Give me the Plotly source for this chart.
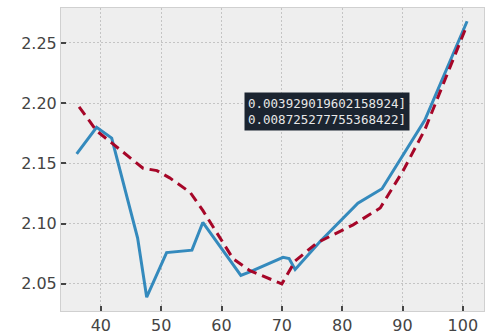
import plotly.graph_objects as go

x_blue = [36.0, 39.3, 41.8, 46.1, 47.6, 50.9, 55.1, 56.9, 63.2, 64.7, 70.2, 71.2, 72.2, 76.3, 82.6, 86.6, 93.7, 100.7]
y_blue = [2.158, 2.180, 2.171, 2.088, 2.039, 2.076, 2.078, 2.101, 2.057, 2.060, 2.072, 2.071, 2.062, 2.085, 2.117, 2.129, 2.186, 2.268]

x_red = [36.4, 39.3, 41.8, 47.0, 49.3, 51.4, 54.8, 56.9, 61.9, 64.7, 70.0, 72.2, 75.8, 81.8, 86.3, 90.1, 93.7, 100.7]
y_red = [2.197, 2.177, 2.167, 2.146, 2.144, 2.138, 2.126, 2.111, 2.071, 2.061, 2.050, 2.069, 2.084, 2.099, 2.113, 2.144, 2.178, 2.265]

x_ticks = [40, 50, 60, 70, 80, 90, 100]
y_ticks = [2.05, 2.10, 2.15, 2.20, 2.25]
y_labels = ["2.05", "2.10", "2.15", "2.20", "2.25"]
box_lines = ["0.003929019602158924]", "0.008725277755368422]"]

fig = go.Figure()
fig.add_trace(go.Scatter(x=x_blue, y=y_blue, mode="lines",
                         line=dict(color="#348ABD", width=3), showlegend=False))
fig.add_trace(go.Scatter(x=x_red, y=y_red, mode="lines",
                         line=dict(color="#A60628", width=3, dash="10px,6px"), showlegend=False))

fig.add_annotation(x=0.433, y=0.66, xref="paper", yref="paper", xanchor="left", yanchor="middle",
                   text="<br>".join(box_lines), showarrow=False, align="left",
                   font=dict(family="DejaVu Sans Mono", size=12.5, color="#e8e8e8"),
                   bgcolor="#1b2430", borderpad=3)

axis_common = dict(showgrid=True, gridcolor="#c4c4c4", griddash="2px,2px", gridwidth=1,
                   ticks="inside", ticklen=5, tickcolor="#444444", tickwidth=1.5,
                   tickfont=dict(family="DejaVu Sans", size=16, color="#444444"),
                   showline=True, linecolor="#d0d0d0", linewidth=1, mirror=True, zeroline=False)

fig.update_xaxes(range=[33.4, 103.5], tickvals=x_ticks, **axis_common)
fig.update_yaxes(range=[2.0275, 2.279], tickvals=y_ticks, ticktext=y_labels, **axis_common)

fig.update_layout(width=486, height=336, margin=dict(l=61, r=2, t=8, b=25),
                  paper_bgcolor="white", plot_bgcolor="#eeeeee")

fig.write_html("out.html")
